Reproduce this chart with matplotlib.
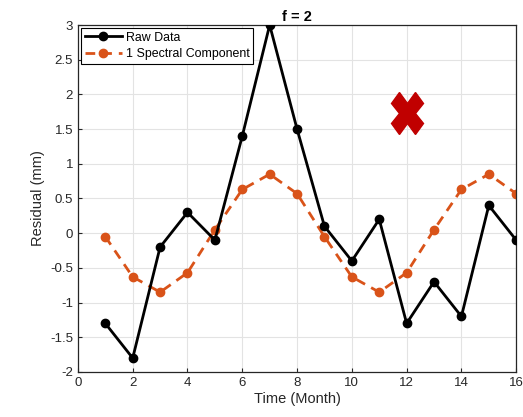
import numpy as np
import matplotlib.pyplot as plt
from matplotlib.markers import MarkerStyle
from matplotlib.transforms import Affine2D

plt.rcParams['font.family'] = ['Liberation Sans', 'DejaVu Sans']

months = [1, 2, 3, 4, 5, 6, 7, 8, 9, 10, 11, 12, 13, 14, 15, 16]
raw_data = [-1.3, -1.8, -0.2, 0.3, -0.1, 1.4, 3.0, 1.5, 0.1, -0.4, 0.2, -1.3, -0.7, -1.2, 0.4, -0.1]
spectral = [-0.05, -0.63, -0.85, -0.57, 0.05, 0.63, 0.85, 0.57, -0.05, -0.63, -0.85, -0.57, 0.05, 0.63, 0.85, 0.57]
cross_x = [12]
cross_y = [1.73]

fig = plt.figure(figsize=(5.23, 4.17), dpi=100)
ax = fig.add_axes([0.149, 0.108, 0.838, 0.832])

ax.plot(months, raw_data, color='black', lw=2, marker='o', ms=6, label='Raw Data', zorder=3)
ax.plot(months, spectral, color='#D95319', lw=2, ls=(0, (3.5, 2.5)), marker='o', ms=6,
        label='1 Spectral Component', zorder=2)

# big red cross
xm = MarkerStyle('X', transform=Affine2D().scale(0.85, 1.1))
ax.plot(cross_x, cross_y, ls='none', marker=xm, ms=27, color='#C00000', mec='#C00000', zorder=4)

ax.set_xlim(0, 16)
ax.set_ylim(-2, 3)
ax.set_xticks(np.arange(0, 17, 2))
ax.set_yticks(np.arange(-2, 3.01, 0.5))
ax.set_yticklabels(['-2', '-1.5', '-1', '-0.5', '0', '0.5', '1', '1.5', '2', '2.5', '3'])
ax.grid(True, color='#e3e3e3', lw=0.8)
ax.set_axisbelow(True)
ax.tick_params(direction='in', length=3, labelsize=9.5, colors='#262626')
for s in ax.spines.values():
    s.set_color('#262626')
    s.set_linewidth(0.9)

ax.set_xlabel('Time (Month)', fontsize=10.5, color='#262626', labelpad=2)
ax.set_ylabel('Residual (mm)', fontsize=10.5, color='#262626', labelpad=4)
ax.set_title('f = 2', fontsize=10.5, fontweight='bold', pad=3)

leg = ax.legend(loc='upper left', fontsize=8.9, fancybox=False, framealpha=1,
                edgecolor='black', borderpad=0.3, handlelength=3.0, handletextpad=0.3,
                labelspacing=0.35, borderaxespad=0.25)
leg.get_frame().set_linewidth(0.8)

fig.savefig('out.png', dpi=100)
